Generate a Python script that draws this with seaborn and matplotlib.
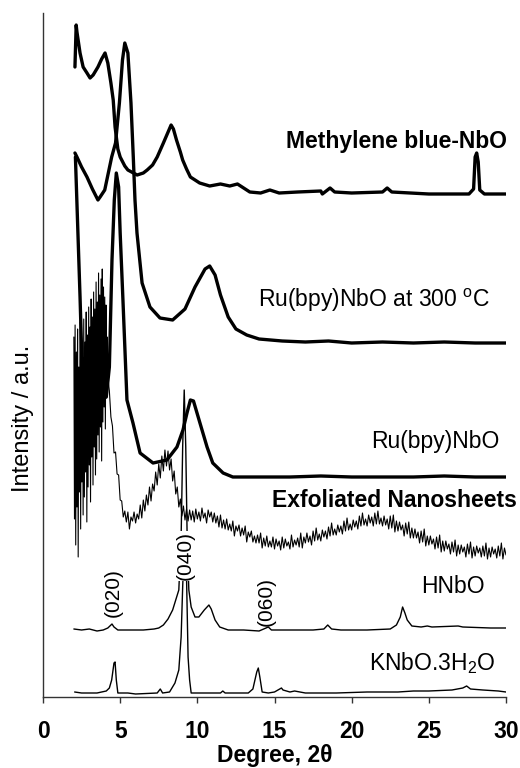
import matplotlib
matplotlib.use("Agg")
import matplotlib.pyplot as plt
import seaborn as sns
import pandas as pd

# ---------------- data (2theta in degrees, intensity in arbitrary units) ----------------
mb_x = [2.07, 2.15, 2.2, 2.4, 2.6, 2.85, 3.05, 3.25, 3.56, 3.8, 4.02, 4.2, 4.4, 4.55, 4.67, 4.85,
        5.0, 5.3, 5.5, 6.1, 6.5, 6.75, 7.1, 7.4, 7.8, 8.05, 8.3, 8.45, 8.65, 8.9, 9.05, 9.3, 9.55,
        10.15, 10.8, 11.5, 12.1, 12.6, 13.4, 14.1, 14.7, 15.3, 16.5, 18.0, 18.1, 18.6, 18.9, 20.0,
        22.0, 22.3, 22.6, 25.0, 27.6, 27.9, 28.0, 28.1, 28.2, 28.3, 28.6, 30.0]
mb_y = [630, 672, 665, 644, 630, 624, 619, 622, 630, 638, 644, 634, 614, 597, 570, 548,
        540, 531, 527, 522, 524, 527, 532, 540, 554, 563, 572, 568, 557, 545, 537, 528, 520,
        514, 511, 513, 511, 513, 505, 504, 507, 504, 505, 506, 503, 509, 505, 504,
        505, 509, 505, 503, 503, 508, 540, 544, 535, 507, 503, 503]

ru300_x = [2.07, 2.2, 2.5, 2.85, 3.2, 3.56, 3.7, 4.0, 4.45, 4.7, 4.95, 5.15, 5.3, 5.5, 5.7, 5.85,
           5.96, 6.09, 6.42, 6.93, 7.58, 8.4, 9.2, 9.85, 10.5, 10.8, 11.15, 11.5, 12.0, 12.5,
           13.2, 14.0, 15.5, 17.0, 18.5, 20.0, 22.0, 24.0, 26.0, 28.0, 30.0]
ru300_y = [544, 540, 530, 520, 508, 497, 500, 507, 540, 554, 594, 637, 654, 644, 594, 540,
           497, 464, 414, 390, 379, 377, 388, 410, 428, 431, 422, 402, 380, 368,
           362, 358, 356, 355, 356, 354, 355, 354, 355, 354, 354]

ru_x = [2.1, 2.25, 2.4, 2.59, 2.75, 3.0, 3.5, 4.1, 4.3, 4.47, 4.62, 4.75, 4.9, 5.0, 5.18, 5.44,
        5.83, 6.29, 7.13, 8.03, 8.68, 9.07, 9.33, 9.55, 9.75, 10.17, 10.63, 11.0, 11.67, 12.3,
        14.0, 16.0, 18.0, 20.0, 22.0, 24.0, 26.0, 28.0, 30.0]
ru_y = [540, 470, 400, 300, 290, 292, 295, 300, 330, 437, 497, 524, 510, 464, 397, 297,
        274, 244, 234, 237, 250, 267, 284, 297, 296, 274, 250, 234, 224, 220,
        220, 220, 221, 220, 220, 220, 221, 220, 220]

exf_x = [2.00, 2.04, 2.08, 2.12, 2.16, 2.20, 2.24, 2.28, 2.32, 2.36,
         2.40, 2.44, 2.48, 2.52, 2.56, 2.60, 2.64, 2.68, 2.72, 2.76,
         2.80, 2.84, 2.88, 2.92, 2.96, 3.00, 3.04, 3.08, 3.12, 3.16,
         3.20, 3.24, 3.28, 3.32, 3.36, 3.40, 3.44, 3.48, 3.52, 3.56,
         3.60, 3.64, 3.68, 3.72, 3.76, 3.80, 3.84, 3.88, 3.92, 3.96,
         4.00, 4.04, 4.08, 4.12, 4.16, 4.20,
         4.3, 4.4, 4.5, 4.6, 4.7, 4.8, 4.9, 5.0, 5.1, 5.2,
         5.3, 5.4, 5.5, 5.6, 5.7, 5.8, 5.9, 6.0, 6.1, 6.2,
         6.3, 6.4, 6.5, 6.6, 6.7, 6.8, 6.9, 7.0, 7.1, 7.2,
         7.3, 7.4, 7.5, 7.6, 7.7, 7.8, 7.9, 8.0, 8.1, 8.2,
         8.3, 8.4, 8.5, 8.6, 8.7, 8.8, 8.9, 9.0, 9.1, 9.2,
         9.3, 9.4, 9.5, 9.6, 9.7, 9.8, 9.9, 10.0, 10.1, 10.2,
         10.3, 10.4, 10.5, 10.6, 10.7, 10.8, 10.9, 11.0, 11.1, 11.2,
         11.3, 11.4, 11.5, 11.6, 11.7, 11.8, 11.9, 12.0, 12.1, 12.2,
         12.3, 12.4, 12.5, 12.6, 12.7, 12.8, 12.9, 13.0, 13.1, 13.2,
         13.3, 13.4, 13.5, 13.6, 13.7, 13.8, 13.9, 14.0, 14.1, 14.2,
         14.3, 14.4, 14.5, 14.6, 14.7, 14.8, 14.9, 15.0, 15.1, 15.2,
         15.3, 15.4, 15.5, 15.6, 15.7, 15.8, 15.9, 16.0, 16.1, 16.2,
         16.3, 16.4, 16.5, 16.6, 16.7, 16.8, 16.9, 17.0, 17.1, 17.2,
         17.3, 17.4, 17.5, 17.6, 17.7, 17.8, 17.9, 18.0, 18.1, 18.2,
         18.3, 18.4, 18.5, 18.6, 18.7, 18.8, 18.9, 19.0, 19.1, 19.2,
         19.3, 19.4, 19.5, 19.6, 19.7, 19.8, 19.9, 20.0, 20.1, 20.2,
         20.3, 20.4, 20.5, 20.6, 20.7, 20.8, 20.9, 21.0, 21.1, 21.2,
         21.3, 21.4, 21.5, 21.6, 21.7, 21.8, 21.9, 22.0, 22.1, 22.2,
         22.3, 22.4, 22.5, 22.6, 22.7, 22.8, 22.9, 23.0, 23.1, 23.2,
         23.3, 23.4, 23.5, 23.6, 23.7, 23.8, 23.9, 24.0, 24.1, 24.2,
         24.3, 24.4, 24.5, 24.6, 24.7, 24.8, 24.9, 25.0, 25.1, 25.2,
         25.3, 25.4, 25.5, 25.6, 25.7, 25.8, 25.9, 26.0, 26.1, 26.2,
         26.3, 26.4, 26.5, 26.6, 26.7, 26.8, 26.9, 27.0, 27.1, 27.2,
         27.3, 27.4, 27.5, 27.6, 27.7, 27.8, 27.9, 28.0, 28.1, 28.2,
         28.3, 28.4, 28.5, 28.6, 28.7, 28.8, 28.9, 29.0, 29.1, 29.2,
         29.3, 29.4, 29.5, 29.6, 29.7, 29.8, 29.9, 30.0]
exf_y = [360, 178, 372, 152, 345, 190, 368, 140, 330, 205,
         375, 168, 352, 215, 340, 182, 378, 200, 355, 225,
         385, 175, 362, 210, 390, 232, 370, 195, 398, 240,
         380, 212, 405, 250, 388, 222, 415, 238, 395, 262,
         424, 245, 402, 270, 418, 236, 428, 275, 410, 290,
         400, 268, 392, 300, 360, 320,
         306, 280, 271, 244, 245, 223, 222, 197, 196, 180,
         186, 175, 185, 168, 180, 176, 185, 174, 183, 178,
         192, 179, 197, 186, 202, 192, 210, 196, 213, 206,
         225, 212, 233, 219, 241, 226, 247, 231, 246, 227,
         238, 216, 226, 203, 210, 190, 198, 181, 191, 177,
         188, 176, 187, 177, 186, 175, 188, 178, 185, 176,
         189, 179, 184, 174, 187, 180, 185, 175, 184, 174,
         181, 170, 182, 169, 177, 168, 178, 167, 173, 166,
         176, 161, 171, 166, 172, 161, 169, 162, 171, 155,
         165, 160, 166, 155, 161, 154, 162, 154, 164, 149,
         159, 151, 161, 150, 156, 150, 160, 148, 158, 151,
         156, 147, 160, 149, 158, 151, 155, 148, 162, 150,
         157, 152, 159, 150, 164, 149, 160, 154, 164, 155,
         161, 152, 166, 156, 169, 157, 163, 156, 167, 160,
         166, 158, 170, 161, 174, 162, 168, 162, 172, 165,
         171, 163, 176, 166, 179, 167, 173, 167, 177, 170,
         176, 168, 181, 171, 184, 172, 178, 171, 182, 174,
         180, 171, 184, 173, 186, 173, 179, 171, 181, 172,
         178, 168, 181, 169, 182, 165, 176, 166, 175, 167,
         172, 161, 174, 163, 175, 159, 169, 159, 168, 159,
         165, 154, 166, 155, 168, 151, 161, 152, 161, 153,
         158, 148, 160, 149, 162, 145, 156, 146, 156, 148,
         153, 143, 155, 145, 157, 141, 152, 143, 152, 145,
         150, 140, 153, 143, 155, 139, 150, 141, 151, 144,
         149, 140, 151, 141, 154, 138, 149, 140, 150, 143,
         148, 139, 151, 141, 154, 138, 149, 142]

hnbo_x = [2.0, 2.5, 3.0, 3.5, 3.9, 4.2, 4.47, 4.6, 4.85, 5.5, 6.5, 7.2, 7.5, 7.8, 8.1, 8.4, 8.6,
          8.8, 8.95, 9.05, 9.15, 9.25, 9.35, 9.45, 9.6, 9.85, 10.1, 10.45, 10.75, 10.9, 11.15,
          11.45, 12.0, 13.0, 14.0, 14.45, 14.6, 14.8, 16.0, 17.5, 18.2, 18.45, 18.7, 19.3, 21.0,
          22.5, 22.9, 23.15, 23.3, 23.45, 23.6, 23.9, 24.5, 24.9, 25.2, 26.9, 27.2, 29.0, 30.0]
hnbo_y = [68, 67, 68, 66, 67, 69, 73, 70, 67, 67, 67, 68, 69, 72, 78, 87, 97,
          107, 160, 250, 307, 250, 150, 107, 90, 80, 80, 87, 92, 88, 77,
          70, 67, 67, 66, 69, 70, 67, 67, 67, 68, 72, 68, 67, 67,
          68, 72, 80, 90, 84, 77, 71, 70, 71, 70, 71, 70, 69, 69]

knbo_x = [2.05, 2.5, 3.5, 4.1, 4.3, 4.45, 4.6, 4.67, 4.75, 4.85, 5.5, 6.0, 7.4, 7.6, 7.75, 8.2,
          8.55, 8.8, 8.95, 9.05, 9.15, 9.3, 9.4, 9.5, 9.6, 10.5, 11.5, 11.65, 11.8, 13.3, 13.6,
          13.85, 13.95, 14.05, 14.2, 14.6, 15.0, 15.45, 15.55, 16.0, 16.3, 17.0, 19.0, 21.0, 23.0,
          24.0, 25.0, 26.5, 27.2, 27.45, 27.7, 28.5, 29.5, 30.0]
knbo_y = [5, 4, 4, 6, 9, 17, 34, 35, 17, 4, 4, 3, 4, 8, 4, 5,
          14, 27, 60, 110, 150, 120, 40, 17, 4, 4, 4, 6, 4, 4, 8,
          25, 29, 20, 5, 4, 5, 9, 7, 5, 6, 4, 4, 5, 5,
          6, 6, 7, 9, 11, 8, 7, 6, 5]

series_names = ["Methylene blue-NbO", "Ru(bpy)NbO at 300 $^{o}$C", "Ru(bpy)NbO",
                "Exfoliated Nanosheets", "HNbO", "KNbO.3H$_2$O"]
peak_labels = ["(020)", "(040)", "(060)"]
x_ticks = [0, 5, 10, 15, 20, 25, 30]

# ---------------- figure ----------------
sns.set_style("ticks")
plt.rcParams["font.family"] = ["Liberation Sans", "DejaVu Sans"]
plt.rcParams["mathtext.default"] = "regular"
plt.rcParams["text.color"] = "black"
plt.rcParams["axes.labelcolor"] = "black"
plt.rcParams["xtick.color"] = "black"
plt.rcParams["axes.edgecolor"] = "black"

fig = plt.figure(figsize=(5.2, 7.68), dpi=100)
ax = fig.add_axes([43 / 520, 71 / 768, 463 / 520, 684 / 768])

traces = [
    (mb_x, mb_y, 2.4),
    (ru300_x, ru300_y, 2.4),
    (ru_x, ru_y, 2.4),
    (exf_x, exf_y, 0.8),
    (hnbo_x, hnbo_y, 1.0),
    (knbo_x, knbo_y, 1.0),
]
for xs, ys, lw in traces:
    df = pd.DataFrame({"x": xs, "y": ys})
    sns.lineplot(data=df, x="x", y="y", ax=ax, color="black", linewidth=lw,
                 sort=False, estimator=None)

ax.set_xlim(0, 30)
ax.set_ylim(0, 684)
ax.set_xticks(x_ticks)
ax.set_yticks([])
ax.set_xlabel("Degree, 2θ", fontsize=16.5, fontweight="bold", labelpad=0.5)
ax.set_ylabel("")
for lab in ax.get_xticklabels():
    lab.set_fontweight("bold")
ax.tick_params(axis="x", direction="out", length=4, width=1, labelsize=16.5, pad=12.5,
               color="#333333")
for s in ["top", "right"]:
    ax.spines[s].set_visible(False)
for s in ["left", "bottom"]:
    ax.spines[s].set_linewidth(1.0)
    ax.spines[s].set_color("#333333")

fig.text(23 / 520, 1 - 418 / 768, "Intensity / a.u.", rotation=90, ha="center",
         va="center", fontsize=17)

# series labels
ax.text(30.07, 549, series_names[0], ha="right", va="baseline", fontsize=16.5, fontweight="bold")
ax.text(28.96, 390, series_names[1], ha="right", va="baseline", fontsize=16.5)
ax.text(29.55, 249, series_names[2], ha="right", va="baseline", fontsize=16.5)
ax.text(30.71, 190, series_names[3], ha="right", va="baseline", fontsize=16.5, fontweight="bold")
ax.text(28.64, 104, series_names[4], ha="right", va="baseline", fontsize=16.5)
ax.text(29.29, 27, series_names[5], ha="right", va="baseline", fontsize=16.5)

# peak labels
bb = dict(facecolor="white", edgecolor="none", pad=0.5)
ax.text(4.54, 104, peak_labels[0], rotation=90, ha="center", va="center", fontsize=15, bbox=bb)
ax.text(9.2, 141, peak_labels[1], rotation=90, ha="center", va="center", fontsize=15, bbox=bb)
ax.text(14.45, 96, peak_labels[2], rotation=90, ha="center", va="center", fontsize=15, bbox=bb)

fig.savefig("out.png", dpi=100)
